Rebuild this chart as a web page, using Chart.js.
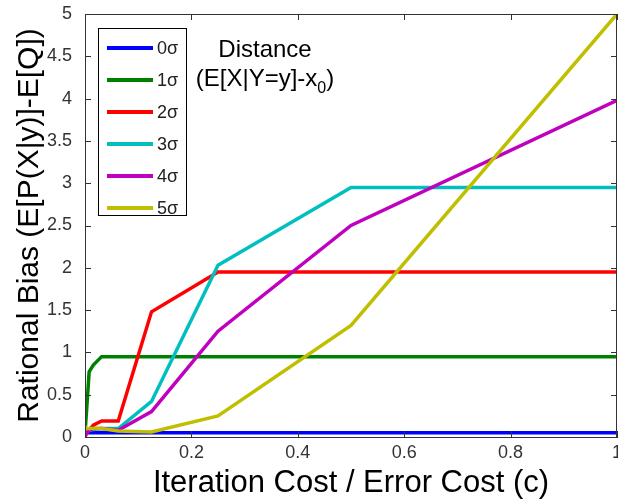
<!DOCTYPE html>
<html>
<head>
<meta charset="utf-8">
<style>
  html, body { margin: 0; padding: 0; background: #fff; }
  #wrap { width: 618px; height: 504px; }
</style>
<script src="https://cdn.jsdelivr.net/npm/chart.js@4.4.1/dist/chart.umd.min.js"></script>
</head>
<body>
<div id="wrap"><canvas id="biasChart"></canvas></div>
<script>
// iteration cost / error cost (c)
const costs = [0, 0.0039, 0.0078, 0.0156, 0.03125, 0.0625, 0.125, 0.25, 0.5, 1];

const seriesLabels = ['0σ', '1σ', '2σ', '3σ', '4σ', '5σ'];
const bias0 = [0.05, 0.05, 0.05, 0.05, 0.05, 0.05, 0.05, 0.05, 0.05, 0.05];
const bias1 = [0.05, 0.4, 0.77, 0.85, 0.95, 0.95, 0.95, 0.95, 0.95, 0.95];
const bias2 = [0.05, 0.06, 0.08, 0.14, 0.19, 0.19, 1.48, 1.95, 1.95, 1.95];
const bias3 = [0.06, 0.07, 0.08, 0.09, 0.1, 0.1, 0.42, 2.03, 2.95, 2.95];
const bias4 = [0.0, 0.05, 0.08, 0.1, 0.1, 0.08, 0.3, 1.25, 2.5, 3.98];
const bias5 = [0.12, 0.1, 0.1, 0.1, 0.1, 0.07, 0.06, 0.25, 1.32, 5];

const colors = ['#0000ff', '#008000', '#ff0000', '#00bfbf', '#bf00bf', '#bfbf00'];

const xTicks = [0, 0.2, 0.4, 0.6, 0.8, 1];
const yTicks = [0, 0.5, 1, 1.5, 2, 2.5, 3, 3.5, 4, 4.5, 5];

const FONT = '"Liberation Sans", Arial, Helvetica, sans-serif';

const allSeries = [bias0, bias1, bias2, bias3, bias4, bias5];
const datasets = allSeries.map(function (vals, i) {
    return {
        label: seriesLabels[i],
        data: costs.map(function (c, k) { return { x: c, y: vals[k] }; }),
        borderColor: colors[i],
        backgroundColor: colors[i],
        borderWidth: 3.5,
        pointRadius: 0,
        showLine: true,
        tension: 0,
        // later series on top, like the original plot
        order: allSeries.length - i
    };
});

// inward ticks on all four sides, the box and the in-plot legend / note
const framePlugin = {
    id: 'frame',
    afterDatasetsDraw: function (chart) {
        const ctx = chart.ctx;
        const a = chart.chartArea;
        const xs = chart.scales.x;
        const ys = chart.scales.y;
        ctx.save();
        ctx.strokeStyle = '#333';
        ctx.lineWidth = 1;
        ctx.beginPath();
        xTicks.forEach(function (t) {
            const px = Math.round(xs.getPixelForValue(t)) + 0.5;
            ctx.moveTo(px, a.bottom); ctx.lineTo(px, a.bottom - 6);
            ctx.moveTo(px, a.top); ctx.lineTo(px, a.top + 6);
        });
        yTicks.forEach(function (t) {
            const py = Math.round(ys.getPixelForValue(t)) + 0.5;
            ctx.moveTo(a.left, py); ctx.lineTo(a.left + 6, py);
            ctx.moveTo(a.right, py); ctx.lineTo(a.right - 6, py);
        });
        ctx.stroke();
        ctx.strokeRect(a.left + 0.5, a.top + 0.5, a.right - a.left - 1, a.bottom - a.top);

        // legend box
        const lx = a.left + 13, ly = a.top + 14, lw = 88, lh = 187;
        ctx.fillStyle = '#fff';
        ctx.fillRect(lx, ly, lw, lh);
        ctx.strokeStyle = '#000';
        ctx.strokeRect(lx + 0.5, ly + 0.5, lw, lh);
        ctx.font = '18px ' + FONT;
        ctx.textBaseline = 'middle';
        ctx.textAlign = 'left';
        chart.data.datasets.forEach(function (ds, i) {
            const rowY = ly + 20 + i * 32;
            ctx.strokeStyle = ds.borderColor;
            ctx.lineWidth = 4;
            ctx.beginPath();
            ctx.moveTo(lx + 9, rowY); ctx.lineTo(lx + 55, rowY);
            ctx.stroke();
            ctx.fillStyle = '#222';
            ctx.fillText(ds.label, lx + 59, rowY + 1);
        });

        // distance note
        ctx.fillStyle = '#000';
        ctx.textAlign = 'center';
        ctx.font = '24px ' + FONT;
        ctx.fillText('Distance', a.left + 180, a.top + 36);
        const mainTxt = '(E[X|Y=y]-x';
        ctx.textAlign = 'left';
        const wMain = ctx.measureText(mainTxt).width;
        ctx.font = '16px ' + FONT;
        const wSub = ctx.measureText('0').width;
        ctx.font = '24px ' + FONT;
        const wEnd = ctx.measureText(')').width;
        let sx = a.left + 180 - (wMain + wSub + wEnd) / 2;
        const ny = a.top + 65;
        ctx.fillText(mainTxt, sx, ny);
        sx += wMain;
        ctx.font = '16px ' + FONT;
        ctx.fillText('0', sx, ny + 10);
        sx += wSub;
        ctx.font = '24px ' + FONT;
        ctx.fillText(')', sx, ny);
        ctx.restore();
    }
};

new Chart(document.getElementById('biasChart').getContext('2d'), {
    type: 'scatter',
    data: { datasets: datasets },
    plugins: [framePlugin],
    options: {
        responsive: true,
        maintainAspectRatio: false,
        animation: false,
        layout: { padding: { top: 14, right: 1, left: 0, bottom: 0 } },
        plugins: {
            legend: { display: false },
            tooltip: { enabled: false }
        },
        scales: {
            x: {
                type: 'linear',
                min: 0,
                max: 1,
                afterFit: function (scale) {
                    scale.height = 67;
                    scale.paddingLeft = 0;
                    scale.paddingRight = 0;
                },
                afterBuildTicks: function (scale) {
                    scale.ticks = xTicks.map(function (v) { return { value: v }; });
                },
                grid: { display: false },
                border: { display: true, color: '#333', width: 1 },
                ticks: {
                    padding: -3,
                    color: '#333',
                    font: { family: FONT, size: 18 },
                    maxRotation: 0,
                    callback: function (v) { return String(Number(v.toFixed(1))); }
                },
                title: {
                    display: true,
                    text: 'Iteration Cost / Error Cost (c)',
                    color: '#000',
                    font: { family: FONT, size: 31 },
                    padding: { top: 0, bottom: 2 }
                }
            },
            y: {
                type: 'linear',
                min: 0,
                max: 5,
                afterFit: function (scale) {
                    scale.width = 85;
                    scale.paddingTop = 0;
                    scale.paddingBottom = 0;
                },
                afterBuildTicks: function (scale) {
                    scale.ticks = yTicks.map(function (v) { return { value: v }; });
                },
                grid: { display: false },
                border: { display: true, color: '#333', width: 1 },
                ticks: {
                    padding: 5,
                    color: '#333',
                    font: { family: FONT, size: 18 },
                    callback: function (v) { return String(Number(v.toFixed(1))); }
                },
                title: {
                    display: true,
                    text: 'Rational Bias (E[P(X|y)]-E[Q])',
                    color: '#000',
                    font: { family: FONT, size: 30 },
                    padding: { top: 12, bottom: 0 }
                }
            }
        }
    }
});
</script>
</body>
</html>
